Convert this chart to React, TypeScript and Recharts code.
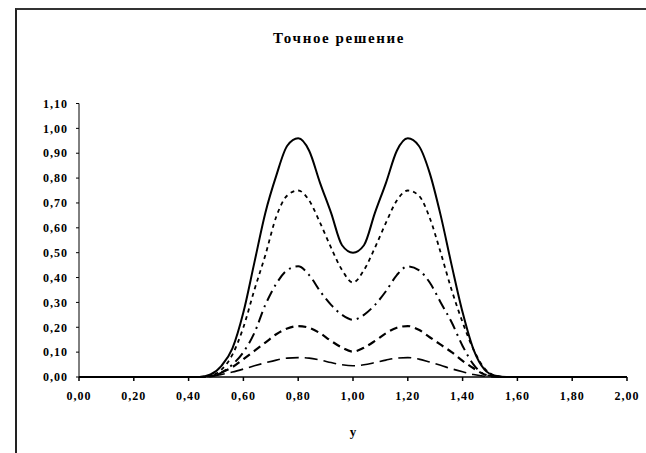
import React from 'react';
import { LineChart, Line, XAxis, YAxis, Label } from 'recharts';

// x grid, step 0.04 over [0, 2]
const xValues = Array.from({ length: 51 }, (_, i) => +(i * 0.04).toFixed(2));

// readings for x = 0.44 ... 1.56 (step 0.04); zero outside
const curve1 = [0, 0.01, 0.045, 0.115, 0.26, 0.46, 0.66, 0.81, 0.93, 0.96, 0.91, 0.78, 0.66, 0.53, 0.5, 0.53, 0.66, 0.78, 0.91, 0.96, 0.93, 0.82, 0.65, 0.45, 0.26, 0.11, 0.03, 0.005, 0];
const curve2 = [0, 0.005, 0.03, 0.09, 0.2, 0.35, 0.49, 0.645, 0.73, 0.75, 0.71, 0.62, 0.52, 0.43, 0.38, 0.43, 0.52, 0.62, 0.71, 0.75, 0.73, 0.64, 0.5, 0.35, 0.22, 0.11, 0.035, 0.005, 0];
const curve3 = [0, 0.003, 0.018, 0.05, 0.1, 0.177, 0.29, 0.375, 0.43, 0.445, 0.41, 0.345, 0.29, 0.25, 0.23, 0.25, 0.29, 0.345, 0.41, 0.445, 0.43, 0.38, 0.3, 0.22, 0.125, 0.05, 0.01, 0.002, 0];
const curve4 = [0, 0.003, 0.018, 0.04, 0.072, 0.105, 0.138, 0.172, 0.195, 0.205, 0.198, 0.176, 0.145, 0.118, 0.102, 0.118, 0.145, 0.176, 0.198, 0.205, 0.19, 0.16, 0.13, 0.1, 0.065, 0.035, 0.01, 0.002, 0];
const curve5 = [0, 0.002, 0.01, 0.02, 0.032, 0.045, 0.057, 0.068, 0.076, 0.078, 0.076, 0.068, 0.058, 0.049, 0.045, 0.049, 0.058, 0.068, 0.076, 0.078, 0.072, 0.06, 0.047, 0.033, 0.021, 0.01, 0.003, 0.001, 0];
const firstIndex = 11; // x = 0.44

const xTicks = [0, 0.2, 0.4, 0.6, 0.8, 1.0, 1.2, 1.4, 1.6, 1.8, 2.0];
const yTicks = [0, 0.1, 0.2, 0.3, 0.4, 0.5, 0.6, 0.7, 0.8, 0.9, 1.0, 1.1];

const pick = (arr: number[], i: number) => {
  const k = i - firstIndex;
  return k >= 0 && k < arr.length ? arr[k] : 0;
};

const data = xValues.map((x, i) => ({
  x,
  c1: pick(curve1, i),
  c2: pick(curve2, i),
  c3: pick(curve3, i),
  c4: pick(curve4, i),
  c5: pick(curve5, i),
}));

const fmt = (v: number) => v.toFixed(2).replace('.', ',');

const font = '"Liberation Serif", "Times New Roman", serif';
const tickStyle = { fontFamily: font, fontWeight: 'bold', fontSize: 12, fill: '#000', letterSpacing: 1 };

export default function App() {
  return (
    <div style={{ position: 'absolute', left: 0, top: 0, width: 646, height: 453, background: '#fff', overflow: 'hidden' }}>
      <div style={{ position: 'absolute', left: 15, top: 8, width: 700, height: 500, borderTop: '2px solid #333', borderLeft: '2px solid #222' }} />
      <div style={{ position: 'absolute', left: 0, top: 30, width: 678, textAlign: 'center', fontFamily: font, fontWeight: 'bold', fontSize: 15, letterSpacing: 1.6, color: '#000' }}>
        Точное решение
      </div>
      <div style={{ position: 'absolute', left: 0, top: 0 }}>
        <LineChart width={646} height={453} data={data} margin={{ top: 103.5, right: 19, bottom: 16, left: 0 }}>
          <XAxis
            dataKey="x"
            type="number"
            domain={[0, 2]}
            ticks={xTicks}
            tickFormatter={fmt}
            stroke="#000"
            strokeWidth={1.5}
            tickSize={4}
            tickMargin={10}
            tick={tickStyle}
            height={60}
          >
            <Label value="y" position="insideBottom" offset={1} style={{ fontFamily: font, fontWeight: 'bold', fontSize: 13, fill: '#000' }} />
          </XAxis>
          <YAxis
            type="number"
            domain={[0, 1.1]}
            ticks={yTicks}
            tickFormatter={fmt}
            stroke="#000"
            tickSize={3}
            tickMargin={8}
            tick={tickStyle}
            width={79}
            interval={0}
          />
          <Line type="monotone" dataKey="c1" stroke="#000" strokeWidth={2} dot={false} isAnimationActive={false} />
          <Line type="monotone" dataKey="c2" stroke="#000" strokeWidth={1.8} strokeDasharray="4 4" dot={false} isAnimationActive={false} />
          <Line type="monotone" dataKey="c3" stroke="#000" strokeWidth={2} strokeDasharray="11 5 2 5" dot={false} isAnimationActive={false} />
          <Line type="monotone" dataKey="c4" stroke="#000" strokeWidth={2.2} strokeDasharray="8 5" dot={false} isAnimationActive={false} />
          <Line type="monotone" dataKey="c5" stroke="#000" strokeWidth={1.6} strokeDasharray="13 6" dot={false} isAnimationActive={false} />
        </LineChart>
      </div>
    </div>
  );
}
